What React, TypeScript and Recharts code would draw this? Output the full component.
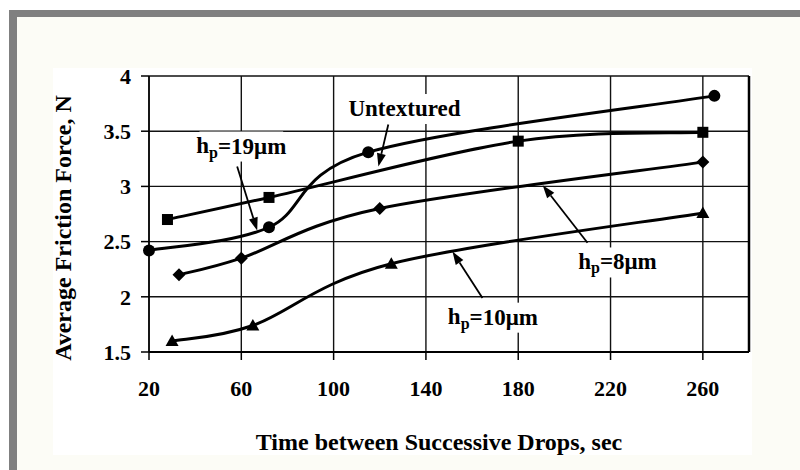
import React from "react";
import {
  CartesianGrid,
  Label,
  Line,
  LineChart,
  ReferenceDot,
  ReferenceLine,
  XAxis,
  YAxis,
} from "recharts";

const X_TICKS = [20, 60, 100, 140, 180, 220, 260];
const Y_TICKS = [1.5, 2, 2.5, 3, 3.5, 4];

// time between drops (sec) -> average friction force (N)
const untextured = [
  { x: 28, y: 2.7 },
  { x: 72, y: 2.9 },
  { x: 180, y: 3.41 },
  { x: 260, y: 3.49 },
];
const hp19 = [
  { x: 20, y: 2.42 },
  { x: 72, y: 2.63 },
  { x: 115, y: 3.31 },
  { x: 265, y: 3.82 },
];
const hp8 = [
  { x: 33, y: 2.2 },
  { x: 60, y: 2.35 },
  { x: 120, y: 2.8 },
  { x: 260, y: 3.22 },
];
const hp10 = [
  { x: 30, y: 1.6 },
  { x: 65, y: 1.74 },
  { x: 125, y: 2.3 },
  { x: 260, y: 2.76 },
];

// annotation text, in data units
const notes = [
  { main: "Untextured", sub: "", rest: "", x: 130.7, y: 3.71 },
  { main: "h", sub: "p", rest: "=19\u03bcm", x: 60, y: 3.37 },
  { main: "h", sub: "p", rest: "=8\u03bcm", x: 223, y: 2.32 },
  { main: "h", sub: "p", rest: "=10\u03bcm", x: 169, y: 1.82 },
];
// arrows from label to curve
const arrows = [
  { x1: 123.7, y1: 3.56, x2: 119.4, y2: 3.18 },
  { x1: 58.2, y1: 3.18, x2: 66.9, y2: 2.6 },
  { x1: 210, y1: 2.49, x2: 190.6, y2: 3.01 },
  { x1: 164.5, y1: 1.99, x2: 151.5, y2: 2.41 },
];

const SERIF = "'Liberation Serif', 'Times New Roman', serif";

// spreadsheet-style smoothed line (Catmull-Rom like bezier)
function smoothCurve(context: any) {
  let pts: number[][] = [];
  return {
    areaStart() {},
    areaEnd() {},
    lineStart() {
      pts = [];
    },
    point(x: number, y: number) {
      pts.push([+x, +y]);
    },
    lineEnd() {
      if (!pts.length) return;
      context.moveTo(pts[0][0], pts[0][1]);
      for (let i = 0; i < pts.length - 1; i++) {
        const p0 = pts[Math.max(i - 1, 0)];
        const p1 = pts[i];
        const p2 = pts[i + 1];
        const p3 = pts[Math.min(i + 2, pts.length - 1)];
        context.bezierCurveTo(
          p1[0] + (p2[0] - p0[0]) / 6,
          p1[1] + (p2[1] - p0[1]) / 6,
          p2[0] - (p3[0] - p1[0]) / 6,
          p2[1] - (p3[1] - p1[1]) / 6,
          p2[0],
          p2[1]
        );
      }
    },
  };
}

function Marker({ cx, cy, kind }: { cx?: number; cy?: number; kind: string }) {
  if (cx == null || cy == null) return null;
  if (kind === "circle") return <circle cx={cx} cy={cy} r={6} fill="#000" />;
  if (kind === "square")
    return <rect x={cx - 5.5} y={cy - 5.5} width={11} height={11} fill="#000" />;
  if (kind === "diamond")
    return (
      <polygon
        points={`${cx},${cy - 6.5} ${cx + 6.5},${cy} ${cx},${cy + 6.5} ${cx - 6.5},${cy}`}
        fill="#000"
      />
    );
  return (
    <polygon
      points={`${cx},${cy - 6.5} ${cx + 6.5},${cy + 5} ${cx - 6.5},${cy + 5}`}
      fill="#000"
    />
  );
}

const dotOf = (kind: string) => (p: any) =>
  <Marker key={`${kind}-${p.index}`} cx={p.cx} cy={p.cy} kind={kind} />;

function Arrow(p: any) {
  const { x1, y1, x2, y2 } = p;
  if ([x1, y1, x2, y2].some((v) => v == null)) return null;
  const a = Math.atan2(y2 - y1, x2 - x1);
  const L = 13;
  const W = 4.5;
  const bx = x2 - L * Math.cos(a);
  const by = y2 - L * Math.sin(a);
  const px = -Math.sin(a) * W;
  const py = Math.cos(a) * W;
  return (
    <g>
      <line x1={x1} y1={y1} x2={bx} y2={by} stroke="#000" strokeWidth={1.8} />
      <polygon
        points={`${x2},${y2} ${bx + px},${by + py} ${bx - px},${by - py}`}
        fill="#000"
      />
    </g>
  );
}

function Note({ cx, cy, n }: { cx?: number; cy?: number; n: (typeof notes)[number] }) {
  if (cx == null || cy == null) return null;
  const len = n.main.length + n.rest.length + (n.sub ? 0.7 : 0);
  const w = len * 11.6 + 6;
  return (
    <g>
      <rect x={cx - w / 2} y={cy - 14} width={w} height={30} fill="#fff" />
      <text
        x={cx}
        y={cy}
        textAnchor="middle"
        dominantBaseline="central"
        fontFamily={SERIF}
        fontWeight={700}
        fontSize={23}
        fill="#000"
      >
        {n.main}
        {n.sub ? (
          <tspan fontSize={16} dy={6}>
            {n.sub}
          </tspan>
        ) : null}
        {n.rest ? <tspan dy={n.sub ? -6 : 0}>{n.rest}</tspan> : null}
      </text>
    </g>
  );
}

export default function App() {
  const tickStyle = { fill: "#000", fontSize: 22, fontWeight: 700, fontFamily: SERIF };
  return (
    <div
      style={{
        position: "fixed",
        left: 0,
        top: 0,
        width: 800,
        height: 470,
        background: "#fff",
        overflow: "hidden",
      }}
    >
      <div
        style={{
          position: "absolute",
          left: 9,
          top: 10,
          width: 820,
          height: 480,
          background: "#fcfcf6",
          borderLeft: "8px solid #808080",
          borderTop: "7px solid #808080",
        }}
      />
      <div
        style={{
          position: "absolute",
          left: 53,
          top: 68,
          width: 699,
          height: 387,
          background: "#fff",
        }}
      />
      <div style={{ position: "absolute", left: 0, top: 0 }}>
        <LineChart
          width={800}
          height={470}
          margin={{ top: 76, right: 51, bottom: 58, left: 89 }}
        >
          <CartesianGrid stroke="#111" strokeWidth={1.4} />
          <XAxis
            dataKey="x"
            type="number"
            domain={[20, 280]}
            ticks={X_TICKS}
            height={60}
            tickSize={8}
            tickMargin={20}
            tick={tickStyle}
            axisLine={{ stroke: "#000", strokeWidth: 2 }}
            tickLine={{ stroke: "#000", strokeWidth: 1.5 }}
          >
            <Label
              content={() => (
                <text
                  x={439}
                  y={442}
                  textAnchor="middle"
                  dominantBaseline="central"
                  fontFamily={SERIF}
                  fontWeight={700}
                  fontSize={24}
                  fill="#000"
                >
                  Time between Successive Drops, sec
                </text>
              )}
            />
          </XAxis>
          <YAxis
            type="number"
            domain={[1.5, 4]}
            ticks={Y_TICKS}
            width={60}
            tickSize={8}
            tickMargin={10}
            tick={tickStyle}
            axisLine={{ stroke: "#000", strokeWidth: 1.5 }}
            tickLine={{ stroke: "#000", strokeWidth: 1.5 }}
          >
            <Label
              content={() => (
                <text
                  transform="translate(63,228) rotate(-90)"
                  textAnchor="middle"
                  dominantBaseline="central"
                  fontFamily={SERIF}
                  fontWeight={700}
                  fontSize={24}
                  fill="#000"
                >
                  Average Friction Force, N
                </text>
              )}
            />
          </YAxis>
          <ReferenceLine x={280} stroke="#000" strokeWidth={2.5} />
          {notes.map((n, i) => (
            <ReferenceDot
              key={`n${i}`}
              x={n.x}
              y={n.y}
              shape={(p: any) => <Note cx={p.cx} cy={p.cy} n={n} />}
            />
          ))}
          <Line data={untextured} dataKey="y" type={smoothCurve as any} stroke="#000" strokeWidth={3} dot={dotOf("square")} isAnimationActive={false} />
          <Line data={hp19} dataKey="y" type={smoothCurve as any} stroke="#000" strokeWidth={3} dot={dotOf("circle")} isAnimationActive={false} />
          <Line data={hp8} dataKey="y" type={smoothCurve as any} stroke="#000" strokeWidth={3} dot={dotOf("diamond")} isAnimationActive={false} />
          <Line data={hp10} dataKey="y" type={smoothCurve as any} stroke="#000" strokeWidth={3} dot={dotOf("triangle")} isAnimationActive={false} />
          {arrows.map((a, i) => (
            <ReferenceLine
              key={`a${i}`}
              segment={[
                { x: a.x1, y: a.y1 },
                { x: a.x2, y: a.y2 },
              ]}
              shape={Arrow}
            />
          ))}
        </LineChart>
      </div>
    </div>
  );
}
